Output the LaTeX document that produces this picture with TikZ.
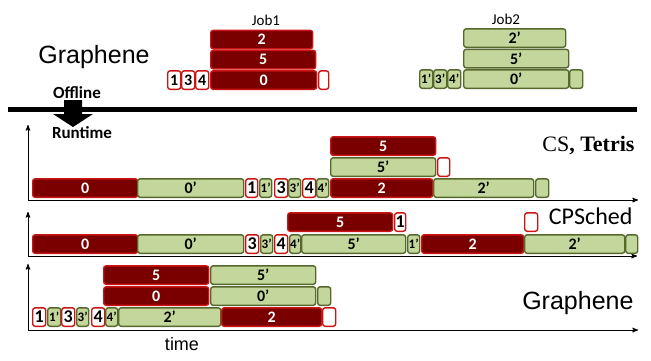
\documentclass[tikz,border=0pt]{standalone}
\usepackage{fontspec}
\setmainfont{Carlito}
\newfontfamily\arialfont{Liberation Sans}
\newfontfamily\timesfont{Liberation Serif}
\usepackage{xcolor}
\usepackage{tikz}
\usetikzlibrary{arrows}

\definecolor{taskdark}{RGB}{122,0,0}
\definecolor{taskred}{RGB}{204,20,20}
\definecolor{taskgreen}{RGB}{195,214,155}
\definecolor{taskolive}{RGB}{86,104,44}

\newcommand{\barfont}{\bfseries\fontsize{16}{16}\selectfont}
\newcommand{\tickfont}{\bfseries\fontsize{18}{18}\selectfont}
\newcommand{\primefont}{\bfseries\fontsize{13}{13}\selectfont}

\begin{document}
\begin{tikzpicture}[x=1pt, y=-1pt, >=stealth',
	bar/.style = {rounded corners=2.5pt, line width=1.4pt, inner sep=0pt, minimum height=18.5pt, anchor=south west},
	rbar/.style = {bar, draw=taskred, fill=taskdark, text=white, font=\barfont, minimum width=#1pt},
	gbar/.style = {bar, draw=taskolive, fill=taskgreen, font=\barfont, minimum width=#1pt},
	rtick/.style = {bar, draw=taskred, fill=white, font=\tickfont, minimum width=#1pt},
	gtick/.style = {bar, draw=taskolive, fill=taskgreen, font=\primefont, minimum width=#1pt},
	axis/.style = {<->, line width=1pt}
	]
	\useasboundingbox (0,0) rectangle (651,360);
	
	% offline plan of the two jobs
	\node[font=\arialfont\fontsize{25}{25}\selectfont] (title) at (94,57) {Graphene};
	\node[font=\fontsize{15}{15}\selectfont] (job1) at (266,20) {Job1};
	\node[font=\fontsize{15}{15}\selectfont] (job2) at (506,19) {Job2};
	
	\node[rbar=102] (j1two)  at (210,49.5) {2};
	\node[rbar=105] (j1five) at (210,69.5) {5};
	\node[rbar=106] (j1zero) at (210,90) {0};
	\node[rtick=13,font=\bfseries\fontsize{16}{16}\selectfont] (j1one)   at (167,90) {1};
	\node[rtick=13,font=\bfseries\fontsize{16}{16}\selectfont] (j1three) at (181,90) {3};
	\node[rtick=13,font=\bfseries\fontsize{16}{16}\selectfont] (j1four)  at (195,90) {4};
	\node[rtick=10] (j1pad)   at (318,90) {};
	
	\node[gbar=102] (j2two)  at (463,48) {2’};
	\node[gbar=105] (j2five) at (463,68.5) {5’};
	\node[gbar=105] (j2zero) at (463,89) {0’};
	\node[gtick=13] (j2one)   at (419,89) {1’};
	\node[gtick=13] (j2three) at (433,89) {3’};
	\node[gtick=13] (j2four)  at (447,89) {4’};
	\node[gtick=13] (j2pad)   at (569,89) {};
	
	% offline / runtime split
	\draw[line width=5pt] (8,109) -- (637,109);
	\fill (64,100) -- (82,100) -- (82,114) -- (93,114) -- (73,127) -- (53,114) -- (64,114) -- cycle;
	\node[font=\bfseries\fontsize{17}{17}\selectfont] (offline) at (77,93) {Offline};
	\node[font=\bfseries\fontsize{17}{17}\selectfont] (runtime) at (82,133) {Runtime};
	
	% CS, Tetris
	\coordinate (csTop) at (28,125);
	\coordinate (csEnd) at (638,200);
	\draw[axis] (csTop) |- (csEnd);
	\node[anchor=east, font=\timesfont\fontsize{22}{22}\selectfont] (cslbl) at (638,146) {CS\textbf{, Tetris}};
	
	\node[rbar=105]  (cs0)  at (32,198) {0};
	\node[gbar=106]  (cs0p) at (137,198) {0’};
	\node[rtick=12]  (cs1)  at (245,198) {1};
	\node[gtick=12]  (cs1p) at (259,198) {1’};
	\node[rtick=13]  (cs3)  at (274,198) {3};
	\node[gtick=12]  (cs3p) at (288,198) {3’};
	\node[rtick=13]  (cs4)  at (302,198) {4};
	\node[gtick=12]  (cs4p) at (316,198) {4’};
	\node[rbar=102]  (cs2)  at (330,198) {2};
	\node[gbar=100]  (cs2p) at (433,198) {2’};
	\node[gtick=13]  (cspad) at (535,198) {};
	\node[gbar=105]  (cs5p) at (330,177) {5’};
	\node[rtick=12]  (csgap) at (437,177) {};
	\node[rbar=105]  (cs5)  at (330,156) {5};
	
	% CPSched
	\coordinate (cpTop) at (28,212);
	\coordinate (cpEnd) at (637,256);
	\draw[axis] (cpTop) |- (cpEnd);
	\node[anchor=east, font=\fontsize{24}{24}\selectfont] (cplbl) at (636,216) {CPSched};
	
	\node[rbar=105]  (cp0)  at (32,254) {0};
	\node[gbar=106]  (cp0p) at (137,254) {0’};
	\node[rtick=13]  (cp3)  at (245,254) {3};
	\node[gtick=12]  (cp3p) at (260,254) {3’};
	\node[rtick=13]  (cp4)  at (274,254) {4};
	\node[gtick=11]  (cp4p) at (289,254) {4’};
	\node[gbar=104]  (cp5p) at (301,254) {5’};
	\node[gtick=12]  (cp1p) at (407,254) {1’};
	\node[rbar=102]  (cp2)  at (421,254) {2};
	\node[gbar=100]  (cp2p) at (524,254) {2’};
	\node[gtick=12]  (cppad) at (625,254) {};
	\node[rbar=105]  (cp5)  at (287,232) {5};
	\node[rtick=11]  (cp1)  at (394,232) {1};
	\node[rtick=13]  (cpgap) at (524,232) {};
	
	% Graphene
	\coordinate (grTop) at (28,264);
	\coordinate (grEnd) at (638,330);
	\draw[axis] (grTop) |- (grEnd);
	\node[anchor=east, font=\arialfont\fontsize{25}{25}\selectfont] (grlbl) at (637,303) {Graphene};
	\node[font=\arialfont\fontsize{18}{18}\selectfont] (time) at (182,344) {time};
	
	\node[rtick=13]  (gr1)  at (32,327) {1};
	\node[gtick=13]  (gr1p) at (47,327) {1’};
	\node[rtick=13]  (gr3)  at (61,327) {3};
	\node[gtick=12]  (gr3p) at (76,327) {3’};
	\node[rtick=13]  (gr4)  at (91,327) {4};
	\node[gtick=12]  (gr4p) at (105,327) {4’};
	\node[gbar=102]  (gr2p) at (118,327) {2’};
	\node[rbar=100]  (gr2)  at (221,327) {2};
	\node[rtick=13]  (grgap) at (322,327) {};
	\node[rbar=105]  (gr0)  at (103,306) {0};
	\node[gbar=105]  (gr0p) at (210,306) {0’};
	\node[gtick=13]  (grpad) at (317,306) {};
	\node[rbar=105]  (gr5)  at (103,285) {5};
	\node[gbar=105]  (gr5p) at (210,285) {5’};
\end{tikzpicture}
\end{document}
